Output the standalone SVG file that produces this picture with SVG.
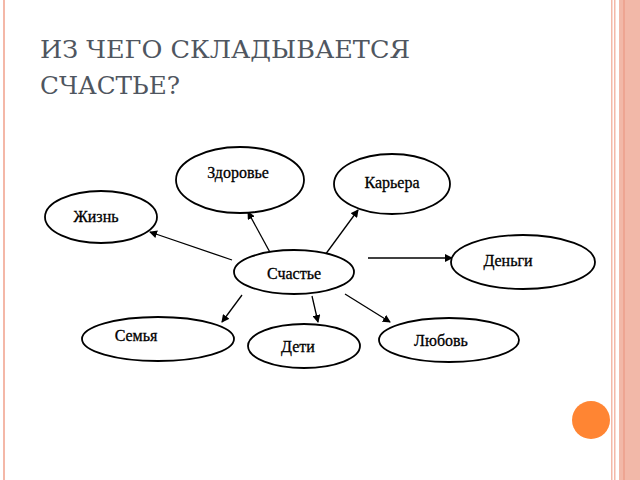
<svg xmlns="http://www.w3.org/2000/svg" width="640" height="480" viewBox="0 0 640 480">
<defs>
<marker id="a" markerWidth="8" markerHeight="8" refX="7" refY="4" orient="auto" markerUnits="userSpaceOnUse"><path d="M0,0 L8,4 L0,8 z" fill="#000"/></marker>
</defs>
<style>
.n{fill:#fff;stroke:#000;stroke-width:1.8}
.t{font-family:"Liberation Serif",serif;font-size:16px;fill:#000;stroke:#000;stroke-width:0.3;text-anchor:middle}
.h{font-family:"DejaVu Serif","Liberation Serif",serif;font-size:25px;fill:#4f5660}
.c line{stroke:#000;stroke-width:1.3;marker-end:url(#a)}
</style>
<rect width="640" height="480" fill="#fff"/>
<rect x="3" y="0" width="2" height="480" fill="#f4b8a8"/>
<rect x="611" y="0" width="1.5" height="480" fill="#f4b8a8"/>
<rect x="614" y="0" width="1.5" height="480" fill="#f4b8a8"/>
<rect x="619" y="0" width="21" height="480" fill="#f2b8a8"/>
<rect x="623" y="0" width="2" height="480" fill="#eea592"/>
<text class="h" x="40" y="58" textLength="370" lengthAdjust="spacingAndGlyphs">ИЗ ЧЕГО СКЛАДЫВАЕТСЯ</text>
<text class="h" x="40" y="94" textLength="140" lengthAdjust="spacingAndGlyphs">СЧАСТЬЕ?</text>
<g class="c">
<line x1="232" y1="260" x2="150" y2="232"/>
<line x1="272" y1="256" x2="248" y2="212"/>
<line x1="325" y1="255" x2="358" y2="210"/>
<line x1="368" y1="258" x2="452" y2="258"/>
<line x1="242" y1="295" x2="222" y2="322"/>
<line x1="312" y1="296" x2="318" y2="322"/>
<line x1="345" y1="294" x2="390" y2="322"/>
</g>
<g id="zdorovie"><ellipse class="n" cx="240" cy="180" rx="64" ry="33"/><text class="t" x="238" y="178">Здоровье</text></g>
<g id="kariera"><ellipse class="n" cx="392" cy="184" rx="58" ry="30"/><text class="t" x="392" y="188">Карьера</text></g>
<g id="zhizn"><ellipse class="n" cx="101" cy="217" rx="56" ry="26"/><text class="t" x="96" y="222">Жизнь</text></g>
<g id="dengi"><ellipse class="n" cx="523" cy="262" rx="72" ry="27"/><text class="t" x="508" y="266">Деньги</text></g>
<g id="schastie"><ellipse class="n" cx="294" cy="272" rx="60" ry="22"/><text class="t" x="294" y="279">Счастье</text></g>
<g id="semia"><ellipse class="n" cx="158" cy="339" rx="76" ry="22"/><text class="t" x="136" y="341">Семья</text></g>
<g id="deti"><ellipse class="n" cx="304" cy="346" rx="56" ry="22"/><text class="t" x="298" y="352">Дети</text></g>
<g id="liubov"><ellipse class="n" cx="449" cy="340" rx="70" ry="22"/><text class="t" x="441" y="346">Любовь</text></g>
<circle cx="591" cy="420" r="19" fill="#ff8533"/>
</svg>
